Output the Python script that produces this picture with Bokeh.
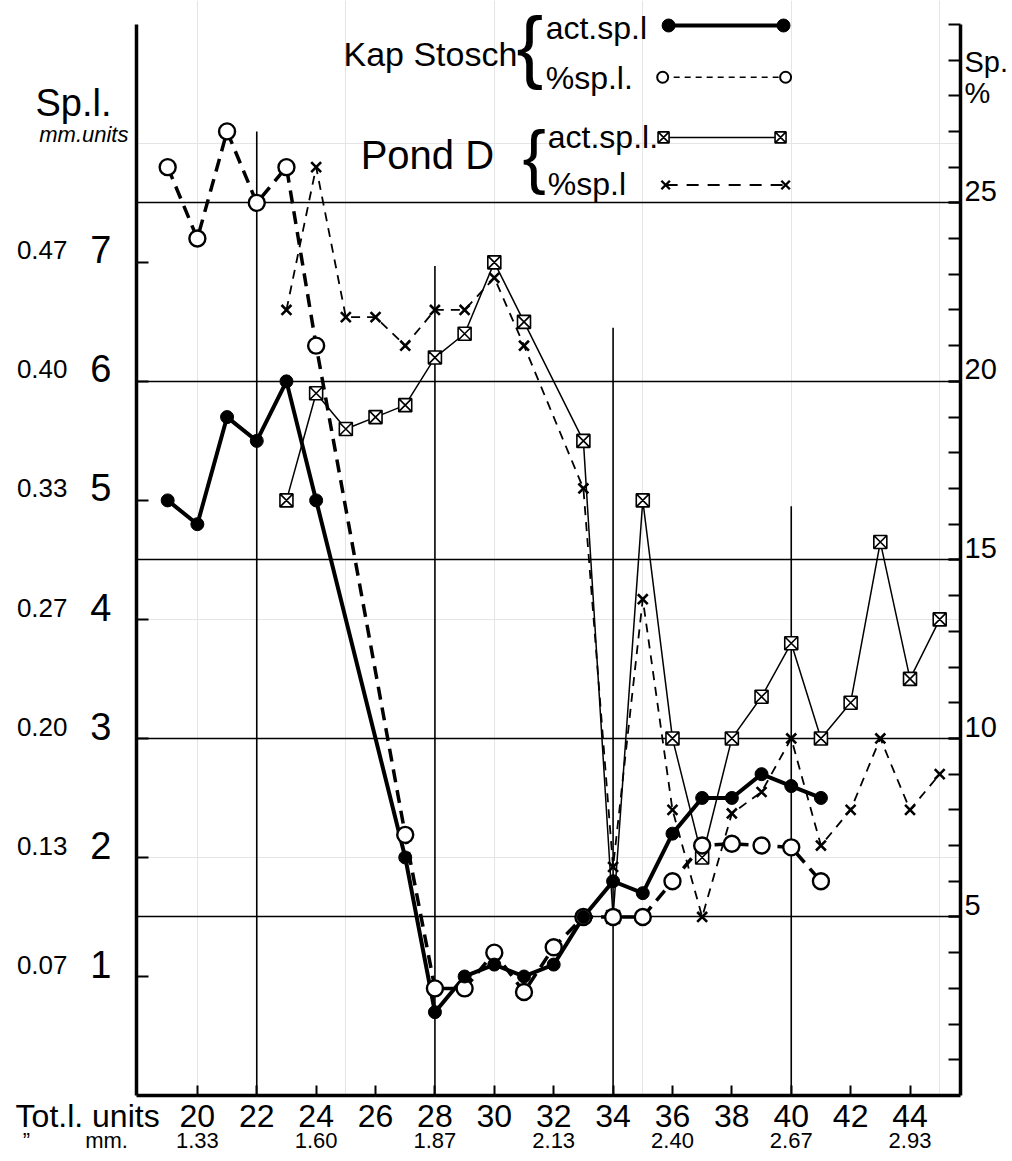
from bokeh.plotting import figure
from bokeh.models import Range1d, LinearAxis, FixedTicker, Label, Grid
from bokeh.embed import file_html
from bokeh.resources import INLINE

# ---------------- data ----------------
ks_x = [19, 20, 21, 22, 23, 24, 27, 28, 29, 30, 31, 32, 33, 34, 35, 36, 37, 38, 39, 40, 41]
ks_act = [5.0, 4.8, 5.7, 5.5, 6.0, 5.0, 2.0, 0.7, 1.0, 1.1, 1.0, 1.1, 1.5, 1.8, 1.7, 2.2, 2.5, 2.5, 2.7, 2.6, 2.5]
ks_pct = [26, 24, 27, 25, 26, 21, 7.3, 3.0, 3.0, 4.0, 2.9, 4.15, 5.0, 5.0, 5.0, 6.0, 7.0, 7.05, 7.0, 6.95, 6.0]

pd_x = [23, 24, 25, 26, 27, 28, 29, 30, 31, 33, 34, 35, 36, 37, 38, 39, 40, 41, 42, 43, 44, 45]
pd_act = [5.0, 5.9, 5.6, 5.7, 5.8, 6.2, 6.4, 7.0, 6.5, 5.5, 1.5, 5.0, 3.0, 2.0, 3.0, 3.35, 3.8, 3.0, 3.3, 4.65, 3.5, 4.0]
pd_pct = [22, 26, 21.8, 21.8, 21.0, 22, 22, 22.9, 21, 17, 6.4, 13.9, 8.0, 5.0, 7.9, 8.5, 10, 7.0, 8.0, 10, 8.0, 9.0]

left_ticks = [1, 2, 3, 4, 5, 6, 7]
left_mm_labels = ["0.07", "0.13", "0.20", "0.27", "0.33", "0.40", "0.47"]
right_ticks = [5, 10, 15, 20, 25]
right_minor = list(range(1, 31))
x_ticks = [20, 22, 24, 26, 28, 30, 32, 34, 36, 38, 40, 42, 44]
x_mm_ticks = [20, 24, 28, 32, 36, 40, 44]
x_mm_labels = ["1.33", "1.60", "1.87", "2.13", "2.40", "2.67", "2.93"]
grid_pct = [5, 10, 15, 20, 25]
vline_x = [22, 28, 34, 40]
vline_top = [8.1, 6.97, 6.45, 4.95]

# axis titles
left_title = "Sp.l."
left_unit = "mm.units"
right_title = "Sp."
right_unit = "%"
x_title = "Tot.l. units"
x_mm_title = "\u201d"
x_mm_unit = "mm."

# ---------------- layout constants ----------------
FONT = "Liberation Sans"
NB = "\u00a0"
PCT = 10.0 / 3.0          # % per left unit
X0, X1 = 17.95, 45.7
YTOP = 9.2
SHIFT = 0.1               # tick labels sit a little above their ticks
LT_Y, LU_Y = 8.24, 8.07   # vertical slots of left titles
RT_Y, RU_Y = 28.6, 27.73  # vertical slots of right titles (in %)
XT = X0 + 0.001           # bottom titles hang left from the frame corner

p = figure(width=1012, height=1161, x_range=Range1d(X0, X1), y_range=Range1d(0, YTOP),
           output_backend="svg", toolbar_location=None,
           x_axis_location=None, y_axis_location=None,
           min_border_left=136, min_border_right=52, min_border_top=0, min_border_bottom=66)
p.outline_line_color = None
p.background_fill_color = "white"
p.border_fill_color = "white"

p.extra_y_ranges = {
    "lab": Range1d(-SHIFT, YTOP - SHIFT),
    "pct": Range1d(0, YTOP * PCT),
    "pctlab": Range1d(-SHIFT * PCT, (YTOP - SHIFT) * PCT),
}

# horizontal rules at the % levels
p.add_layout(Grid(dimension=1, ticker=FixedTicker(ticks=[g / PCT for g in grid_pct]),
                  grid_line_color="black", grid_line_width=1.6))

NOTICK = dict(major_tick_in=0, major_tick_out=0, minor_tick_in=0, minor_tick_out=0,
              major_tick_line_color=None, minor_tick_line_color=None, axis_line_color=None)

# ---------------- left axes ----------------
left_main = LinearAxis(ticker=FixedTicker(ticks=[LU_Y], minor_ticks=left_ticks), bounds=(0, 9),
                       major_label_overrides={LU_Y: left_unit},
                       major_tick_in=0, major_tick_out=0, minor_tick_in=12, minor_tick_out=0,
                       minor_tick_line_width=2, minor_tick_line_color="black",
                       axis_line_width=3.5, axis_line_color="black",
                       major_label_text_font=FONT, major_label_text_font_size="22px",
                       major_label_text_font_style="italic",
                       major_label_text_color="black", major_label_standoff=8)
left_num = LinearAxis(y_range_name="lab", ticker=FixedTicker(ticks=left_ticks + [LT_Y]),
                      major_label_overrides={LT_Y: left_title}, **NOTICK,
                      major_label_text_font=FONT, major_label_text_font_size="38px",
                      major_label_text_color="black", major_label_standoff=-75)
left_mm = LinearAxis(y_range_name="lab", ticker=FixedTicker(ticks=left_ticks),
                     major_label_overrides=dict(zip(left_ticks, left_mm_labels)), **NOTICK,
                     major_label_text_font=FONT, major_label_text_font_size="26px",
                     major_label_text_color="black", major_label_standoff=-35)
p.add_layout(left_main, "left")
p.add_layout(left_num, "left")
p.add_layout(left_mm, "left")

# ---------------- right axes ----------------
right_main = LinearAxis(y_range_name="pct", bounds=(0, 30),
                        ticker=FixedTicker(ticks=right_ticks, minor_ticks=right_minor),
                        major_tick_in=12, major_tick_out=0, minor_tick_in=12, minor_tick_out=0,
                        major_tick_line_width=2, minor_tick_line_width=2,
                        axis_line_width=3.5, major_label_text_font_size="1px",
                        major_label_standoff=0)
right_num = LinearAxis(y_range_name="pctlab", ticker=FixedTicker(ticks=right_ticks + [RU_Y, RT_Y]),
                       major_label_overrides={RT_Y: right_title, RU_Y: right_unit}, **NOTICK,
                       major_label_text_font=FONT, major_label_text_font_size="29px",
                       major_label_text_color="black", major_label_standoff=0)
p.add_layout(right_main, "right")
p.add_layout(right_num, "right")

# ---------------- bottom axes ----------------
bottom_main = LinearAxis(ticker=FixedTicker(ticks=x_ticks),
                         major_tick_in=10, major_tick_out=0, minor_tick_out=0,
                         major_tick_line_width=2, axis_line_width=3.5,
                         major_label_text_font_size="1px", major_label_standoff=0)
units_label = x_title + NB * 11
mm_label = x_mm_title + NB * 9 + x_mm_unit + NB * 20
bottom_units = LinearAxis(ticker=FixedTicker(ticks=[XT] + x_ticks),
                          major_label_overrides={XT: units_label}, **NOTICK,
                          major_label_text_font=FONT, major_label_text_font_size="32px",
                          major_label_text_color="black", major_label_standoff=-2)
bottom_mm = LinearAxis(ticker=FixedTicker(ticks=[XT] + x_mm_ticks),
                       major_label_overrides=dict(zip([XT] + x_mm_ticks, [mm_label] + x_mm_labels)),
                       **NOTICK,
                       major_label_text_font=FONT, major_label_text_font_size="22px",
                       major_label_text_color="black", major_label_standoff=-9)
p.add_layout(bottom_main, "below")
p.add_layout(bottom_units, "below")
p.add_layout(bottom_mm, "below")

# vertical rules
p.segment(x0=vline_x, y0=[0] * len(vline_x), x1=vline_x, y1=vline_top,
          line_color="black", line_width=1.6)

# ---------------- series ----------------
p.line(pd_x, pd_act, line_color="black", line_width=1.5)
p.line(pd_x, pd_pct, y_range_name="pct", line_color="black", line_width=1.8, line_dash="9 7")
p.line(ks_x, ks_pct, y_range_name="pct", line_color="black", line_width=3.5, line_dash="13 8")
p.line(ks_x, ks_act, line_color="black", line_width=4)

p.scatter(pd_x, pd_act, marker="square_x", size=13, fill_color="white",
          line_color="black", line_width=1.6)
p.scatter(pd_x, pd_pct, y_range_name="pct", marker="x", size=14,
          line_color="black", line_width=2.6)
p.scatter(ks_x, ks_pct, y_range_name="pct", marker="circle", size=16, fill_color="white",
          line_color="black", line_width=2.4)
p.scatter(ks_x, ks_act, marker="circle", size=13, fill_color="black", line_color="black")

# ---------------- hand-drawn style legend ----------------
def txt(x, y, s, size):
    p.add_layout(Label(x=x, y=y, text=s, text_font=FONT, text_font_size=size,
                       text_color="black", text_baseline="middle"))

txt(24.92, 8.75, "Kap Stosch", "34px")
txt(30.75, 8.82, "{", "80px")
txt(31.73, 8.97, "act.sp.l", "32px")
txt(31.73, 8.55, "%sp.l.", "32px")
txt(25.50, 7.90, "Pond D", "40px")
txt(30.95, 7.89, "{", "70px")
txt(31.80, 8.05, "act.sp.l.", "32px")
txt(31.80, 7.66, "%sp.l", "32px")

lx = [35.87, 39.74]
p.line(lx, [8.99, 8.99], line_color="black", line_width=4)
p.scatter(lx, [8.99, 8.99], marker="circle", size=13, fill_color="black", line_color="black")
lx2 = [35.67, 39.81]
p.line(lx2, [8.555, 8.555], line_color="black", line_width=1.6, line_dash="6 5")
p.scatter(lx2, [8.555, 8.555], marker="circle", size=11, fill_color="white", line_color="black", line_width=2)
lx3 = [35.70, 39.64]
p.line(lx3, [8.05, 8.05], line_color="black", line_width=1.5)
p.scatter(lx3, [8.05, 8.05], marker="square_x", size=11, fill_color="white", line_color="black", line_width=1.6)
lx4 = [35.77, 39.81]
p.line(lx4, [7.65, 7.65], line_color="black", line_width=1.8, line_dash="12 9")
p.scatter(lx4, [7.65, 7.65], marker="x", size=12, line_color="black", line_width=2.4)

open("out.html", "w").write(file_html(p, INLINE))
